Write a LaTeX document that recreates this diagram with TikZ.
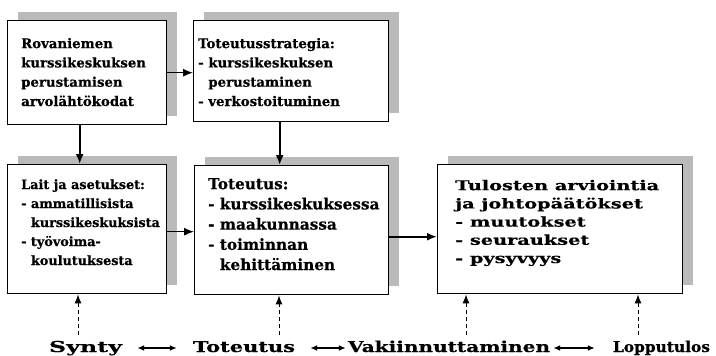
\documentclass[tikz,border=0pt]{standalone}
\usepackage{fontspec}
\usepackage{graphicx}
\setmainfont{DejaVu Serif}
\newfontfamily\heavy{DejaVu Serif Bold}[FakeBold=0.5]
\newfontfamily\wideheavy{DejaVu Serif Bold}[FakeStretch=1.42,FakeBold=0.5]
\usetikzlibrary{arrows.meta,shadows}

\begin{document}
\begin{tikzpicture}[x=1pt,y=-1pt,
  box/.style={draw=black, line width=1.4pt, fill=white, inner sep=0pt,
    anchor=north west,
    copy shadow={shadow xshift=10pt, shadow yshift=9pt, fill=black!27, draw=none}},
  txt/.style={anchor=base west, inner sep=0pt, align=left},
  lab/.style={anchor=base, inner sep=0pt, font=\heavy\fontsize{15}{17}\selectfont},
  flow/.style={-{Latex[length=10pt,width=8pt]}, line width=2pt},
  thin flow/.style={-{Latex[length=10pt,width=8pt]}, line width=1.2pt},
  cue/.style={-{Latex[length=9pt,width=7pt]}, line width=1pt, dash pattern=on 4pt off 3pt},
  both/.style={{Latex[length=7pt,width=6pt]}-{Latex[length=7pt,width=6pt]}, line width=1.4pt}]
\useasboundingbox (0,0) rectangle (716,356);

% boxes
\node[box, minimum width=159pt, minimum height=104pt] (b1) at (7,20) {};
\node[box, minimum width=195pt, minimum height=101pt] (b2) at (193,20) {};
\node[box, minimum width=159pt, minimum height=129pt] (b3) at (7,164) {};
\node[box, minimum width=194pt, minimum height=129pt] (b4) at (194,165) {};
\node[box, minimum width=245pt, minimum height=129pt] (b5) at (437,164) {};

% box texts (anchored at the baseline of their last line)
\node[txt, font=\heavy\fontsize{13.3}{19.3}\selectfont] (t1) at (21,106)
  {Rovaniemen\\kurssikeskuksen\\perustamisen\\arvolähtökodat};
\node[txt, font=\heavy\fontsize{13.3}{19.3}\selectfont] (t2) at (198,106)
  {Toteutusstrategia:\\- kurssikeskuksen\\\hphantom{- }perustaminen\\- verkostoituminen};
\node[txt, font=\heavy\fontsize{12.8}{19}\selectfont] (t3) at (21,265)
  {Lait ja asetukset:\\- ammatillisista\\\hphantom{- }kurssikeskuksista\\- työvoima-\\\hphantom{- }koulutuksesta};
\node[txt, font=\heavy\fontsize{15.3}{20.2}\selectfont] (t4) at (208,270)
  {Toteutus:\\- kurssikeskuksessa\\- maakunnassa\\- toiminnan\\\hphantom{- }kehittäminen};
\node[txt, font=\wideheavy\fontsize{13.6}{18.2}\selectfont] (t5) at (455,263)
  {Tulosten arviointia\\ja johtopäätökset\\- muutokset\\- seuraukset\\- pysyvyys};

% phase labels
\node[lab] (l1) at (85.5,352) {\resizebox{73pt}{\height}{Synty}};
\node[lab] (l2) at (244,352) {\resizebox{102pt}{\height}{Toteutus}};
\node[lab] (l3) at (449,352) {\resizebox{202pt}{\height}{Vakiinnuttaminen}};
\node[lab] (l4) at (661.5,352) {\resizebox{97pt}{\height}{Lopputulos}};

% flow between boxes
\draw[thin flow] (b1.east) -- (b1.east -| b2.west);
\draw[flow] ([xshift=-7.5pt]b1.south) -- ([xshift=-7.5pt]b3.north);
\draw[flow] ([xshift=-11.5pt]b2.south) -- ([xshift=-12pt]b4.north);
\draw[thin flow] ([yshift=-2.5pt]b3.east) -- ([yshift=-2.5pt]b3.east -| b4.west);
\draw[flow] ([yshift=-6.5pt]b4.east) -- ([yshift=-6.5pt]b4.east -| b5.west);

% dashed cues from the phases
\coordinate (c1) at (78,335);
\coordinate (c2) at (279,335);
\coordinate (c3) at (466,335);
\coordinate (c4) at (638,335);
\draw[cue] (c1) -- (c1 |- b3.south);
\draw[cue] (c2) -- (c2 |- b4.south);
\draw[cue] (c3) -- (c3 |- b5.south);
\draw[cue] (c4) -- (c4 |- b5.south);

% phase sequence
\draw[both] ([yshift=4pt,xshift=15pt]l1.base east) -- ([yshift=4pt,xshift=-16pt]l2.base west);
\draw[both] ([yshift=4pt,xshift=15pt]l2.base east) -- ([yshift=4pt,xshift=-2pt]l3.base west);
\draw[both] ([yshift=4pt,xshift=3pt]l3.base east) -- ([yshift=4pt,xshift=-18pt]l4.base west);
\end{tikzpicture}
\end{document}
